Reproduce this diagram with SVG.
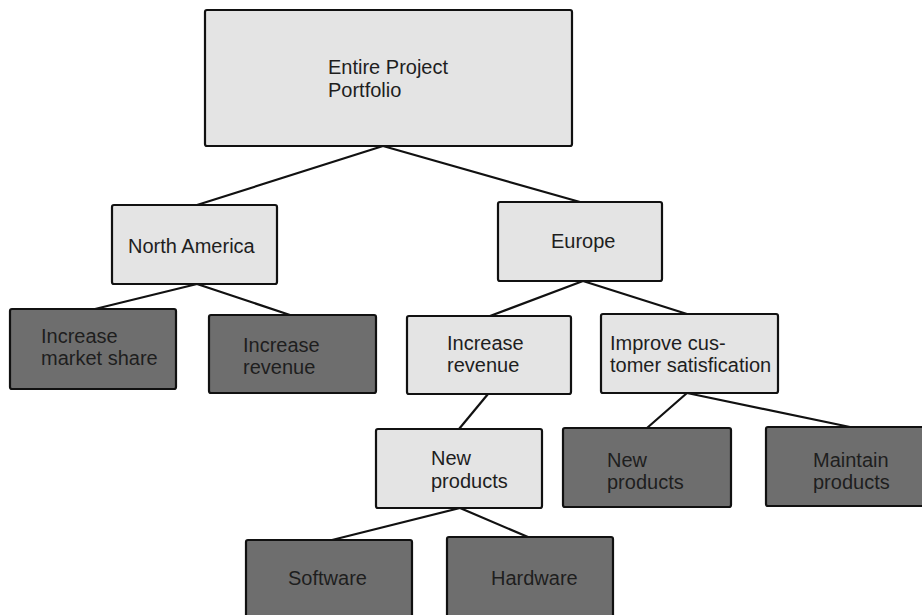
<svg xmlns="http://www.w3.org/2000/svg" width="922" height="615" viewBox="0 0 922 615">
  <style>
    .box { stroke: #111; stroke-width: 2.2; }
    .light { fill: #e4e4e4; }
    .dark { fill: #6e6e6e; }
    .label { font-family: "Liberation Sans", Arial, sans-serif; font-size: 20px; fill: #1e1e1e; }
    .edge { stroke: #111; stroke-width: 2.2; fill: none; stroke-linecap: round; }
  </style>
  <rect width="922" height="615" fill="#ffffff"/>

  <!-- connectors -->
  <g id="connectors">
    <line class="edge" x1="383" y1="146" x2="197" y2="205"/>
    <line class="edge" x1="383" y1="146" x2="580" y2="202"/>
    <line class="edge" x1="197" y1="284" x2="95" y2="309"/>
    <line class="edge" x1="197" y1="284" x2="290" y2="315"/>
    <line class="edge" x1="583" y1="281" x2="490" y2="316"/>
    <line class="edge" x1="583" y1="281" x2="687" y2="314"/>
    <line class="edge" x1="488" y1="394" x2="459" y2="429"/>
    <line class="edge" x1="460" y1="508" x2="332" y2="540"/>
    <line class="edge" x1="460" y1="508" x2="528" y2="537"/>
    <line class="edge" x1="687" y1="393" x2="647" y2="428"/>
    <line class="edge" x1="687" y1="393" x2="850" y2="427"/>
  </g>

  <!-- root -->
  <g id="portfolio">
    <rect class="box light" x="205" y="10" width="367" height="136" rx="2"/>
    <text class="label" x="328" y="74">Entire Project</text>
    <text class="label" x="328" y="97">Portfolio</text>
  </g>

  <!-- regions -->
  <g id="north-america">
    <rect class="box light" x="112" y="205" width="165" height="79" rx="2"/>
    <text class="label" x="128" y="253">North America</text>
  </g>
  <g id="europe">
    <rect class="box light" x="498" y="202" width="164" height="79" rx="2"/>
    <text class="label" x="551" y="248">Europe</text>
  </g>

  <!-- North America goals -->
  <g id="na-market-share">
    <rect class="box dark" x="10" y="309" width="166" height="80" rx="2"/>
    <text class="label" x="41" y="343">Increase</text>
    <text class="label" x="41" y="365">market share</text>
  </g>
  <g id="na-revenue">
    <rect class="box dark" x="209" y="315" width="167" height="78" rx="2"/>
    <text class="label" x="243" y="352">Increase</text>
    <text class="label" x="243" y="374">revenue</text>
  </g>

  <!-- Europe goals -->
  <g id="eu-revenue">
    <rect class="box light" x="407" y="316" width="164" height="78" rx="2"/>
    <text class="label" x="447" y="350">Increase</text>
    <text class="label" x="447" y="372">revenue</text>
  </g>
  <g id="eu-satisfaction">
    <rect class="box light" x="601" y="314" width="177" height="79" rx="2"/>
    <text class="label" x="610" y="350">Improve cus-</text>
    <text class="label" x="610" y="372">tomer satisfication</text>
  </g>

  <!-- revenue projects -->
  <g id="eu-new-products">
    <rect class="box light" x="376" y="429" width="166" height="79" rx="2"/>
    <text class="label" x="431" y="465">New</text>
    <text class="label" x="431" y="488">products</text>
  </g>
  <g id="software">
    <rect class="box dark" x="246" y="540" width="166" height="90" rx="2"/>
    <text class="label" x="288" y="585">Software</text>
  </g>
  <g id="hardware">
    <rect class="box dark" x="447" y="537" width="166" height="93" rx="2"/>
    <text class="label" x="491" y="585">Hardware</text>
  </g>

  <!-- satisfaction projects -->
  <g id="sat-new-products">
    <rect class="box dark" x="563" y="428" width="168" height="79" rx="2"/>
    <text class="label" x="607" y="467">New</text>
    <text class="label" x="607" y="489">products</text>
  </g>
  <g id="maintain-products">
    <rect class="box dark" x="766" y="427" width="170" height="79" rx="2"/>
    <text class="label" x="813" y="467">Maintain</text>
    <text class="label" x="813" y="489">products</text>
  </g>
</svg>
